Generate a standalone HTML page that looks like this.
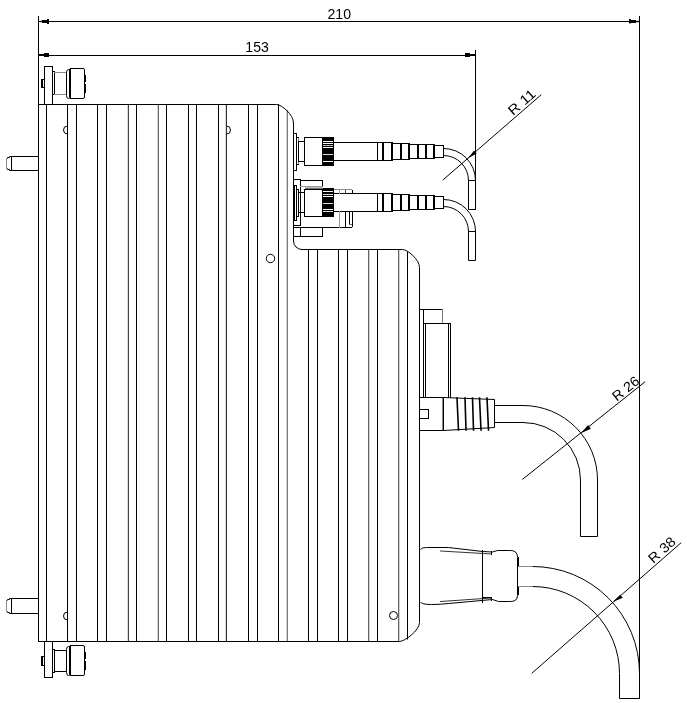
<!DOCTYPE html>
<html><head><meta charset="utf-8"><style>
html,body{margin:0;padding:0;background:#fff;}
svg{display:block;font-family:"Liberation Sans",sans-serif;}
text{filter:grayscale(1);}
</style></head><body>
<svg width="687" height="703" viewBox="0 0 687 703">
<g transform="translate(0.5,0.5)" fill="none" stroke-linecap="butt">
<line x1="38" y1="16" x2="38" y2="641" stroke="#000" stroke-width="1" stroke-linecap="square"/>
<line x1="639" y1="16" x2="639" y2="698" stroke="#000" stroke-width="1" stroke-linecap="square"/>
<line x1="475" y1="50" x2="475" y2="209" stroke="#000" stroke-width="1" stroke-linecap="square"/>
<line x1="38" y1="21" x2="639" y2="21" stroke="#000" stroke-width="1" stroke-linecap="square"/>
<line x1="38" y1="55" x2="475" y2="55" stroke="#000" stroke-width="1" stroke-linecap="square"/>
<rect x="41.5" y="19.5" width="7" height="3" fill="#000" stroke="none"/>
<rect x="46.5" y="18.5" width="2" height="5" fill="#000" stroke="none"/>
<rect x="39.5" y="19.5" width="2" height="3" fill="#c8c8c8" stroke="none"/>
<rect x="38.5" y="20.5" width="3" height="1" fill="#000" stroke="none"/>
<rect x="628.5" y="19.5" width="7" height="3" fill="#000" stroke="none"/>
<rect x="628.5" y="18.5" width="2" height="1" fill="#000" stroke="none"/>
<rect x="628.5" y="22.5" width="2" height="1" fill="#999" stroke="none"/>
<rect x="635.5" y="19.5" width="3" height="3" fill="#d0d0d0" stroke="none"/>
<rect x="635.5" y="20.5" width="3" height="1" fill="#000" stroke="none"/>
<rect x="43.5" y="52.5" width="5" height="4" fill="#000" stroke="none"/>
<rect x="38.5" y="53.5" width="5" height="2" fill="#000" stroke="none"/>
<rect x="464.5" y="52.5" width="5" height="4" fill="#000" stroke="none"/>
<rect x="469.5" y="53.5" width="5" height="2" fill="#000" stroke="none"/>
<g fill="#000" stroke="none">
<text x="327" y="18" font-size="14.4" textLength="23.5" lengthAdjust="spacingAndGlyphs">210</text>
<text x="244.8" y="51.3" font-size="14.4" textLength="23.5" lengthAdjust="spacingAndGlyphs">153</text>
</g>
<line x1="46" y1="104" x2="46" y2="641" stroke="#000" stroke-width="1" stroke-linecap="square"/>
<line x1="67" y1="104" x2="67" y2="641" stroke="#000" stroke-width="1" stroke-linecap="square"/>
<line x1="76" y1="104" x2="76" y2="641" stroke="#000" stroke-width="1" stroke-linecap="square"/>
<line x1="97" y1="104" x2="97" y2="641" stroke="#000" stroke-width="1" stroke-linecap="square"/>
<line x1="106" y1="104" x2="106" y2="641" stroke="#000" stroke-width="1" stroke-linecap="square"/>
<line x1="128" y1="104" x2="128" y2="641" stroke="#444" stroke-width="1" stroke-linecap="square"/>
<line x1="127" y1="104" x2="127" y2="641" stroke="#d8d8d8" stroke-width="1" stroke-linecap="square"/>
<line x1="136" y1="104" x2="136" y2="641" stroke="#000" stroke-width="1" stroke-linecap="square"/>
<line x1="158" y1="104" x2="158" y2="641" stroke="#666" stroke-width="1" stroke-linecap="square"/>
<line x1="157" y1="104" x2="157" y2="641" stroke="#d8d8d8" stroke-width="1" stroke-linecap="square"/>
<line x1="166" y1="104" x2="166" y2="641" stroke="#000" stroke-width="1" stroke-linecap="square"/>
<line x1="188" y1="104" x2="188" y2="641" stroke="#000" stroke-width="1" stroke-linecap="square"/>
<line x1="196" y1="104" x2="196" y2="641" stroke="#000" stroke-width="1" stroke-linecap="square"/>
<line x1="218" y1="104" x2="218" y2="641" stroke="#000" stroke-width="1" stroke-linecap="square"/>
<line x1="226" y1="104" x2="226" y2="641" stroke="#333" stroke-width="1" stroke-linecap="square"/>
<line x1="225" y1="104" x2="225" y2="641" stroke="#d8d8d8" stroke-width="1" stroke-linecap="square"/>
<line x1="248" y1="104" x2="248" y2="641" stroke="#000" stroke-width="1" stroke-linecap="square"/>
<line x1="257" y1="104" x2="257" y2="641" stroke="#000" stroke-width="1" stroke-linecap="square"/>
<line x1="278" y1="104" x2="278" y2="641" stroke="#000" stroke-width="1" stroke-linecap="square"/>
<line x1="287" y1="110" x2="287" y2="641" stroke="#777" stroke-width="1" stroke-linecap="square"/>
<line x1="286" y1="110" x2="286" y2="641" stroke="#d8d8d8" stroke-width="1" stroke-linecap="square"/>
<line x1="308" y1="249" x2="308" y2="641" stroke="#000" stroke-width="1" stroke-linecap="square"/>
<line x1="317" y1="249" x2="317" y2="641" stroke="#000" stroke-width="1" stroke-linecap="square"/>
<line x1="338" y1="249" x2="338" y2="641" stroke="#000" stroke-width="1" stroke-linecap="square"/>
<line x1="347" y1="249" x2="347" y2="641" stroke="#000" stroke-width="1" stroke-linecap="square"/>
<line x1="368" y1="249" x2="368" y2="641" stroke="#666" stroke-width="1" stroke-linecap="square"/>
<line x1="369" y1="249" x2="369" y2="641" stroke="#d0d0d0" stroke-width="1" stroke-linecap="square"/>
<line x1="377" y1="249" x2="377" y2="641" stroke="#000" stroke-width="1" stroke-linecap="square"/>
<line x1="398" y1="249" x2="398" y2="641" stroke="#666" stroke-width="1" stroke-linecap="square"/>
<line x1="399" y1="249" x2="399" y2="641" stroke="#d0d0d0" stroke-width="1" stroke-linecap="square"/>
<line x1="407" y1="251.5" x2="407" y2="638.5" stroke="#000" stroke-width="1" stroke-linecap="square"/>
<path d="M38,104 H276 C281,104 293,114 293,122.5 V240.5 A8.5,8.5 0 0 0 301.5,249 H402 C407,249 419,259 419,267 V622 C419,630 404,641 399,641 H38" stroke="#000" fill="none" stroke-width="1"/>
<path d="M67,125.5 A4,4 0 0 0 67,133.5" stroke="#000" fill="none" stroke-width="1"/>
<path d="M226,125.5 A4,4 0 0 1 226,133.5" stroke="#000" fill="none" stroke-width="1"/>
<path d="M67,611.5 A4,4 0 0 0 67,619.5" stroke="#000" fill="none" stroke-width="1"/>
<circle cx="270" cy="258" r="4.2" fill="none" stroke="#000"/>
<circle cx="393" cy="615" r="4" fill="none" stroke="#000"/>
<line x1="11" y1="156" x2="38" y2="156" stroke="#000" stroke-width="1" stroke-linecap="square"/>
<line x1="11" y1="170" x2="38" y2="170" stroke="#000" stroke-width="1" stroke-linecap="square"/>
<line x1="11" y1="156" x2="11" y2="170" stroke="#000" stroke-width="1" stroke-linecap="square"/>
<path d="M11,156 H9 V157 H7 V158" stroke="#000" fill="none" stroke-width="1"/>
<path d="M11,170 H9 V169 H7 V168" stroke="#000" fill="none" stroke-width="1"/>
<line x1="6" y1="158" x2="6" y2="168" stroke="#888" stroke-width="1" stroke-linecap="square"/>
<line x1="11" y1="598" x2="38" y2="598" stroke="#000" stroke-width="1" stroke-linecap="square"/>
<line x1="11" y1="613" x2="38" y2="613" stroke="#000" stroke-width="1" stroke-linecap="square"/>
<line x1="11" y1="598" x2="11" y2="613" stroke="#000" stroke-width="1" stroke-linecap="square"/>
<path d="M11,598 H9 V599 H7 V600" stroke="#000" fill="none" stroke-width="1"/>
<path d="M11,613 H9 V612 H7 V611" stroke="#000" fill="none" stroke-width="1"/>
<line x1="6" y1="600" x2="6" y2="611" stroke="#888" stroke-width="1" stroke-linecap="square"/>
<rect x="44" y="66" width="8" height="38" stroke="#000" fill="none"/>
<rect x="41" y="79" width="3" height="8" stroke="#000" fill="none"/>
<rect x="40.5" y="78.5" width="2" height="9" fill="#000" stroke="none"/>
<rect x="52" y="71" width="2" height="23" stroke="#000" fill="none"/>
<line x1="54" y1="72" x2="66" y2="72" stroke="#888" stroke-width="1" stroke-linecap="square"/>
<line x1="54" y1="94" x2="66" y2="94" stroke="#888" stroke-width="1" stroke-linecap="square"/>
<path d="M69,69 H68 Q66,69 66,72 V95 Q66,98 68,98 H69" stroke="#000" fill="none" stroke-width="1"/>
<rect x="69" y="68" width="15" height="30" stroke="#000" fill="none" rx="1.5"/>
<line x1="70" y1="68" x2="70" y2="98" stroke="#000" stroke-width="1" stroke-linecap="square"/>
<rect x="84.5" y="74.5" width="1" height="7" fill="#000" stroke="none"/>
<rect x="84.5" y="83.5" width="1" height="9" fill="#000" stroke="none"/>
<rect x="44" y="641" width="8" height="36" stroke="#000" fill="none"/>
<rect x="41" y="656" width="3" height="9" stroke="#000" fill="none"/>
<rect x="40.5" y="655.5" width="2" height="10" fill="#000" stroke="none"/>
<rect x="52" y="649" width="2" height="23" stroke="#000" fill="none"/>
<line x1="54" y1="650" x2="66" y2="650" stroke="#000" stroke-width="1" stroke-linecap="square"/>
<line x1="54" y1="671" x2="66" y2="671" stroke="#000" stroke-width="1" stroke-linecap="square"/>
<path d="M69,646 H68 Q66,646 66,649 V672 Q66,675 68,675 H69" stroke="#000" fill="none" stroke-width="1"/>
<rect x="69" y="645" width="15" height="30" stroke="#000" fill="none" rx="1.5"/>
<line x1="70" y1="645" x2="70" y2="675" stroke="#000" stroke-width="1" stroke-linecap="square"/>
<rect x="84.5" y="651.5" width="1" height="7" fill="#000" stroke="none"/>
<rect x="84.5" y="660.5" width="1" height="9" fill="#000" stroke="none"/>
<rect x="293" y="133" width="3" height="37" stroke="#000" fill="none"/>
<line x1="298" y1="137" x2="298" y2="164" stroke="#888" stroke-width="1" stroke-linecap="square"/>
<line x1="296" y1="137" x2="298" y2="137" stroke="#000" stroke-width="1" stroke-linecap="square"/>
<line x1="296" y1="164" x2="298" y2="164" stroke="#000" stroke-width="1" stroke-linecap="square"/>
<rect x="298" y="141" width="6" height="20" stroke="#000" fill="none"/>
<rect x="304" y="137" width="18" height="28" stroke="#000" fill="none"/>
<rect x="322.5" y="136.5" width="11" height="29" fill="#000" stroke="none"/>
<rect x="322.5" y="140.5" width="10" height="1" fill="#fff" stroke="none"/>
<rect x="322.5" y="142.5" width="10" height="1" fill="#fff" stroke="none"/>
<rect x="322.5" y="144.5" width="10" height="1" fill="#bbb" stroke="none"/>
<rect x="322.5" y="146.5" width="10" height="1" fill="#fff" stroke="none"/>
<rect x="322.5" y="153.5" width="10" height="1" fill="#ddd" stroke="none"/>
<rect x="322.5" y="160.5" width="10" height="1" fill="#fff" stroke="none"/>
<line x1="334" y1="142" x2="377" y2="142" stroke="#000" stroke-width="1" stroke-linecap="square"/>
<line x1="334" y1="160" x2="377" y2="160" stroke="#000" stroke-width="1" stroke-linecap="square"/>
<line x1="377" y1="142" x2="382" y2="142" stroke="#000" stroke-width="1" stroke-linecap="square"/>
<line x1="377" y1="160" x2="382" y2="160" stroke="#000" stroke-width="1" stroke-linecap="square"/>
<line x1="377" y1="142" x2="377" y2="160" stroke="#000" stroke-width="1" stroke-linecap="square"/>
<line x1="377" y1="142" x2="377" y2="160" stroke="#000" stroke-width="1" stroke-linecap="square"/>
<line x1="382" y1="142" x2="382" y2="160" stroke="#000" stroke-width="1" stroke-linecap="square"/>
<line x1="383" y1="142" x2="383" y2="160" stroke="#000" stroke-width="1" stroke-linecap="square"/>
<line x1="383" y1="142" x2="391" y2="142" stroke="#000" stroke-width="1" stroke-linecap="square"/>
<line x1="383" y1="160" x2="391" y2="160" stroke="#000" stroke-width="1" stroke-linecap="square"/>
<line x1="382" y1="142" x2="382" y2="160" stroke="#000" stroke-width="1" stroke-linecap="square"/>
<line x1="383" y1="142" x2="383" y2="160" stroke="#000" stroke-width="1" stroke-linecap="square"/>
<line x1="391" y1="142" x2="391" y2="160" stroke="#000" stroke-width="1" stroke-linecap="square"/>
<line x1="392" y1="142" x2="392" y2="160" stroke="#000" stroke-width="1" stroke-linecap="square"/>
<line x1="392" y1="143" x2="400" y2="143" stroke="#000" stroke-width="1" stroke-linecap="square"/>
<line x1="392" y1="159" x2="400" y2="159" stroke="#000" stroke-width="1" stroke-linecap="square"/>
<line x1="391" y1="143" x2="391" y2="159" stroke="#000" stroke-width="1" stroke-linecap="square"/>
<line x1="392" y1="143" x2="392" y2="159" stroke="#000" stroke-width="1" stroke-linecap="square"/>
<line x1="400" y1="143" x2="400" y2="159" stroke="#000" stroke-width="1" stroke-linecap="square"/>
<line x1="401" y1="143" x2="401" y2="159" stroke="#000" stroke-width="1" stroke-linecap="square"/>
<line x1="401" y1="143" x2="408" y2="143" stroke="#000" stroke-width="1" stroke-linecap="square"/>
<line x1="401" y1="159" x2="408" y2="159" stroke="#000" stroke-width="1" stroke-linecap="square"/>
<line x1="400" y1="143" x2="400" y2="159" stroke="#000" stroke-width="1" stroke-linecap="square"/>
<line x1="401" y1="143" x2="401" y2="159" stroke="#000" stroke-width="1" stroke-linecap="square"/>
<line x1="408" y1="143" x2="408" y2="159" stroke="#000" stroke-width="1" stroke-linecap="square"/>
<line x1="409" y1="143" x2="409" y2="159" stroke="#000" stroke-width="1" stroke-linecap="square"/>
<line x1="409" y1="144" x2="417" y2="144" stroke="#000" stroke-width="1" stroke-linecap="square"/>
<line x1="409" y1="158" x2="417" y2="158" stroke="#000" stroke-width="1" stroke-linecap="square"/>
<line x1="408" y1="144" x2="408" y2="158" stroke="#000" stroke-width="1" stroke-linecap="square"/>
<line x1="409" y1="144" x2="409" y2="158" stroke="#000" stroke-width="1" stroke-linecap="square"/>
<line x1="417" y1="144" x2="417" y2="158" stroke="#000" stroke-width="1" stroke-linecap="square"/>
<line x1="418" y1="144" x2="418" y2="158" stroke="#000" stroke-width="1" stroke-linecap="square"/>
<line x1="418" y1="144" x2="425" y2="144" stroke="#000" stroke-width="1" stroke-linecap="square"/>
<line x1="418" y1="158" x2="425" y2="158" stroke="#000" stroke-width="1" stroke-linecap="square"/>
<line x1="417" y1="144" x2="417" y2="158" stroke="#000" stroke-width="1" stroke-linecap="square"/>
<line x1="418" y1="144" x2="418" y2="158" stroke="#000" stroke-width="1" stroke-linecap="square"/>
<line x1="425" y1="144" x2="425" y2="158" stroke="#000" stroke-width="1" stroke-linecap="square"/>
<line x1="426" y1="144" x2="426" y2="158" stroke="#000" stroke-width="1" stroke-linecap="square"/>
<line x1="426" y1="144" x2="433" y2="144" stroke="#000" stroke-width="1" stroke-linecap="square"/>
<line x1="426" y1="158" x2="433" y2="158" stroke="#000" stroke-width="1" stroke-linecap="square"/>
<line x1="425" y1="144" x2="425" y2="158" stroke="#000" stroke-width="1" stroke-linecap="square"/>
<line x1="426" y1="144" x2="426" y2="158" stroke="#000" stroke-width="1" stroke-linecap="square"/>
<line x1="433" y1="144" x2="433" y2="158" stroke="#000" stroke-width="1" stroke-linecap="square"/>
<line x1="434" y1="144" x2="434" y2="158" stroke="#000" stroke-width="1" stroke-linecap="square"/>
<line x1="434" y1="145" x2="443" y2="145" stroke="#000" stroke-width="1" stroke-linecap="square"/>
<line x1="434" y1="157" x2="443" y2="157" stroke="#000" stroke-width="1" stroke-linecap="square"/>
<line x1="433" y1="145" x2="433" y2="157" stroke="#000" stroke-width="1" stroke-linecap="square"/>
<line x1="434" y1="145" x2="434" y2="157" stroke="#000" stroke-width="1" stroke-linecap="square"/>
<line x1="443" y1="145" x2="443" y2="157" stroke="#000" stroke-width="1" stroke-linecap="square"/>
<line x1="443" y1="145" x2="443" y2="157" stroke="#000" stroke-width="1" stroke-linecap="square"/>
<path d="M443,148 A32,32 0 0 1 475,180 V209 H468 V180 A25,25 0 0 0 443,155" stroke="#000" fill="none" stroke-width="1"/>
<line x1="468" y1="180" x2="475" y2="180" stroke="#000" stroke-width="1" stroke-linecap="square"/>
<rect x="293" y="179" width="7" height="46" stroke="#000" fill="none"/>
<line x1="300" y1="180" x2="322" y2="180" stroke="#000" stroke-width="1" stroke-linecap="square"/>
<line x1="322" y1="180" x2="322" y2="188" stroke="#000" stroke-width="1" stroke-linecap="square"/>
<line x1="300" y1="186" x2="322" y2="186" stroke="#999" stroke-width="1" stroke-linecap="square"/>
<rect x="304.5" y="186.5" width="18" height="1" fill="#bbb" stroke="none"/>
<rect x="304.5" y="187.5" width="18" height="1" fill="#777" stroke="none"/>
<rect x="294" y="185" width="2" height="35" stroke="#000" fill="none"/>
<rect x="296" y="189" width="2" height="27" stroke="#000" fill="none"/>
<rect x="298" y="192" width="6" height="20" stroke="#000" fill="none"/>
<rect x="304" y="189" width="18" height="27" stroke="#000" fill="none"/>
<rect x="322.5" y="187.5" width="11" height="29" fill="#000" stroke="none"/>
<rect x="322.5" y="190.5" width="10" height="1" fill="#fff" stroke="none"/>
<rect x="322.5" y="193.5" width="10" height="1" fill="#ddd" stroke="none"/>
<rect x="322.5" y="195.5" width="10" height="1" fill="#fff" stroke="none"/>
<rect x="322.5" y="202.5" width="10" height="1" fill="#ddd" stroke="none"/>
<rect x="322.5" y="208.5" width="10" height="1" fill="#fff" stroke="none"/>
<rect x="322.5" y="210.5" width="10" height="1" fill="#ddd" stroke="none"/>
<rect x="293" y="227" width="29" height="9" stroke="#000" fill="none"/>
<line x1="300" y1="227" x2="300" y2="236" stroke="#000" stroke-width="1" stroke-linecap="square"/>
<line x1="334" y1="193" x2="377" y2="193" stroke="#000" stroke-width="1" stroke-linecap="square"/>
<line x1="334" y1="211" x2="377" y2="211" stroke="#000" stroke-width="1" stroke-linecap="square"/>
<line x1="334" y1="189" x2="351" y2="189" stroke="#888" stroke-width="1" stroke-linecap="square"/>
<line x1="352" y1="190" x2="352" y2="193" stroke="#000" stroke-width="1" stroke-linecap="square"/>
<line x1="339" y1="190" x2="339" y2="193" stroke="#aaa" stroke-width="1" stroke-linecap="square"/>
<line x1="345" y1="190" x2="345" y2="193" stroke="#444" stroke-width="1" stroke-linecap="square"/>
<line x1="322" y1="227" x2="351" y2="227" stroke="#000" stroke-width="1" stroke-linecap="square"/>
<line x1="339" y1="211" x2="339" y2="227" stroke="#999" stroke-width="1" stroke-linecap="square"/>
<line x1="345" y1="211" x2="345" y2="227" stroke="#000" stroke-width="1" stroke-linecap="square"/>
<line x1="349" y1="211" x2="349" y2="223" stroke="#000" stroke-width="1" stroke-linecap="square"/>
<line x1="349" y1="224" x2="351" y2="224" stroke="#666" stroke-width="1" stroke-linecap="square"/>
<line x1="352" y1="211" x2="352" y2="226" stroke="#000" stroke-width="1" stroke-linecap="square"/>
<line x1="377" y1="193" x2="382" y2="193" stroke="#000" stroke-width="1" stroke-linecap="square"/>
<line x1="377" y1="211" x2="382" y2="211" stroke="#000" stroke-width="1" stroke-linecap="square"/>
<line x1="377" y1="193" x2="377" y2="211" stroke="#000" stroke-width="1" stroke-linecap="square"/>
<line x1="377" y1="193" x2="377" y2="211" stroke="#000" stroke-width="1" stroke-linecap="square"/>
<line x1="382" y1="193" x2="382" y2="211" stroke="#000" stroke-width="1" stroke-linecap="square"/>
<line x1="383" y1="193" x2="383" y2="211" stroke="#000" stroke-width="1" stroke-linecap="square"/>
<line x1="383" y1="193" x2="391" y2="193" stroke="#000" stroke-width="1" stroke-linecap="square"/>
<line x1="383" y1="211" x2="391" y2="211" stroke="#000" stroke-width="1" stroke-linecap="square"/>
<line x1="382" y1="193" x2="382" y2="211" stroke="#000" stroke-width="1" stroke-linecap="square"/>
<line x1="383" y1="193" x2="383" y2="211" stroke="#000" stroke-width="1" stroke-linecap="square"/>
<line x1="391" y1="193" x2="391" y2="211" stroke="#000" stroke-width="1" stroke-linecap="square"/>
<line x1="392" y1="193" x2="392" y2="211" stroke="#000" stroke-width="1" stroke-linecap="square"/>
<line x1="392" y1="194" x2="400" y2="194" stroke="#000" stroke-width="1" stroke-linecap="square"/>
<line x1="392" y1="210" x2="400" y2="210" stroke="#000" stroke-width="1" stroke-linecap="square"/>
<line x1="391" y1="194" x2="391" y2="210" stroke="#000" stroke-width="1" stroke-linecap="square"/>
<line x1="392" y1="194" x2="392" y2="210" stroke="#000" stroke-width="1" stroke-linecap="square"/>
<line x1="400" y1="194" x2="400" y2="210" stroke="#000" stroke-width="1" stroke-linecap="square"/>
<line x1="401" y1="194" x2="401" y2="210" stroke="#000" stroke-width="1" stroke-linecap="square"/>
<line x1="401" y1="194" x2="408" y2="194" stroke="#000" stroke-width="1" stroke-linecap="square"/>
<line x1="401" y1="210" x2="408" y2="210" stroke="#000" stroke-width="1" stroke-linecap="square"/>
<line x1="400" y1="194" x2="400" y2="210" stroke="#000" stroke-width="1" stroke-linecap="square"/>
<line x1="401" y1="194" x2="401" y2="210" stroke="#000" stroke-width="1" stroke-linecap="square"/>
<line x1="408" y1="194" x2="408" y2="210" stroke="#000" stroke-width="1" stroke-linecap="square"/>
<line x1="409" y1="194" x2="409" y2="210" stroke="#000" stroke-width="1" stroke-linecap="square"/>
<line x1="409" y1="195" x2="417" y2="195" stroke="#000" stroke-width="1" stroke-linecap="square"/>
<line x1="409" y1="209" x2="417" y2="209" stroke="#000" stroke-width="1" stroke-linecap="square"/>
<line x1="408" y1="195" x2="408" y2="209" stroke="#000" stroke-width="1" stroke-linecap="square"/>
<line x1="409" y1="195" x2="409" y2="209" stroke="#000" stroke-width="1" stroke-linecap="square"/>
<line x1="417" y1="195" x2="417" y2="209" stroke="#000" stroke-width="1" stroke-linecap="square"/>
<line x1="418" y1="195" x2="418" y2="209" stroke="#000" stroke-width="1" stroke-linecap="square"/>
<line x1="418" y1="195" x2="425" y2="195" stroke="#000" stroke-width="1" stroke-linecap="square"/>
<line x1="418" y1="209" x2="425" y2="209" stroke="#000" stroke-width="1" stroke-linecap="square"/>
<line x1="417" y1="195" x2="417" y2="209" stroke="#000" stroke-width="1" stroke-linecap="square"/>
<line x1="418" y1="195" x2="418" y2="209" stroke="#000" stroke-width="1" stroke-linecap="square"/>
<line x1="425" y1="195" x2="425" y2="209" stroke="#000" stroke-width="1" stroke-linecap="square"/>
<line x1="426" y1="195" x2="426" y2="209" stroke="#000" stroke-width="1" stroke-linecap="square"/>
<line x1="426" y1="195" x2="433" y2="195" stroke="#000" stroke-width="1" stroke-linecap="square"/>
<line x1="426" y1="209" x2="433" y2="209" stroke="#000" stroke-width="1" stroke-linecap="square"/>
<line x1="425" y1="195" x2="425" y2="209" stroke="#000" stroke-width="1" stroke-linecap="square"/>
<line x1="426" y1="195" x2="426" y2="209" stroke="#000" stroke-width="1" stroke-linecap="square"/>
<line x1="433" y1="195" x2="433" y2="209" stroke="#000" stroke-width="1" stroke-linecap="square"/>
<line x1="434" y1="195" x2="434" y2="209" stroke="#000" stroke-width="1" stroke-linecap="square"/>
<line x1="434" y1="196" x2="443" y2="196" stroke="#000" stroke-width="1" stroke-linecap="square"/>
<line x1="434" y1="208" x2="443" y2="208" stroke="#000" stroke-width="1" stroke-linecap="square"/>
<line x1="433" y1="196" x2="433" y2="208" stroke="#000" stroke-width="1" stroke-linecap="square"/>
<line x1="434" y1="196" x2="434" y2="208" stroke="#000" stroke-width="1" stroke-linecap="square"/>
<line x1="443" y1="196" x2="443" y2="208" stroke="#000" stroke-width="1" stroke-linecap="square"/>
<line x1="443" y1="196" x2="443" y2="208" stroke="#000" stroke-width="1" stroke-linecap="square"/>
<path d="M443,199 A32,32 0 0 1 475,231 V260 H468 V231 A25,25 0 0 0 443,206" stroke="#000" fill="none" stroke-width="1"/>
<line x1="468" y1="231" x2="475" y2="231" stroke="#000" stroke-width="1" stroke-linecap="square"/>
<line x1="419" y1="309" x2="442" y2="309" stroke="#000" stroke-width="1" stroke-linecap="square"/>
<line x1="442" y1="309" x2="442" y2="323" stroke="#777" stroke-width="1" stroke-linecap="square"/>
<line x1="423" y1="309" x2="423" y2="397" stroke="#000" stroke-width="1" stroke-linecap="square"/>
<line x1="423" y1="323" x2="450" y2="323" stroke="#000" stroke-width="1" stroke-linecap="square"/>
<line x1="425" y1="323" x2="425" y2="397" stroke="#000" stroke-width="1" stroke-linecap="square"/>
<line x1="448" y1="323" x2="448" y2="397" stroke="#000" stroke-width="1" stroke-linecap="square"/>
<line x1="450" y1="323" x2="450" y2="397" stroke="#000" stroke-width="1" stroke-linecap="square"/>
<path d="M419,397 H443 V430 H419" stroke="#000" fill="none" stroke-width="1"/>
<rect x="419" y="409" width="9" height="9" stroke="#000" fill="none"/>
<line x1="442" y1="398" x2="442" y2="429" stroke="#888" stroke-width="1" stroke-linecap="square"/>
<path d="M443,397 L494,399 V427 L443,430" stroke="#000" fill="none" stroke-width="1"/>
<line x1="456.5" y1="397.5" x2="458" y2="429.5" stroke="#000" stroke-width="1.6" stroke-linecap="square"/>
<line x1="464.5" y1="397.5" x2="465.5" y2="429.5" stroke="#000" stroke-width="1.6" stroke-linecap="square"/>
<line x1="472" y1="397.5" x2="473" y2="429.5" stroke="#000" stroke-width="1.6" stroke-linecap="square"/>
<line x1="479" y1="397.5" x2="480.5" y2="429.5" stroke="#000" stroke-width="1.6" stroke-linecap="square"/>
<line x1="486.5" y1="397.5" x2="488" y2="429.5" stroke="#000" stroke-width="1.6" stroke-linecap="square"/>
<path d="M494,405 H522.5 A74.5,74.5 0 0 1 597,479.5 V536 H580 V479.5 A57.5,57.5 0 0 0 522.5,422 H494" stroke="#000" fill="none" stroke-width="1"/>
<path d="M420,549 Q421,547 426,547 H448 L482,551 L492,551.5 L497,550 H510 Q517,550 517,557 V595 Q517,601 510,601 H498 L492,599 L448,603 Q440,604 431,604 Q421,604 420,601.5" stroke="#000" fill="none" stroke-width="1"/>
<line x1="440" y1="550.5" x2="491" y2="553.5" stroke="#333" stroke-width="1" stroke-linecap="square"/>
<line x1="440" y1="601" x2="491" y2="597.5" stroke="#333" stroke-width="1" stroke-linecap="square"/>
<line x1="482" y1="550" x2="482" y2="602" stroke="#000" stroke-width="1" stroke-linecap="square"/>
<line x1="482" y1="597" x2="491" y2="597" stroke="#000" stroke-width="1" stroke-linecap="square"/>
<line x1="491" y1="597" x2="491" y2="600" stroke="#000" stroke-width="1" stroke-linecap="square"/>
<line x1="491" y1="551" x2="491" y2="554" stroke="#000" stroke-width="1" stroke-linecap="square"/>
<rect x="517.5" y="556.5" width="1" height="10" fill="#000" stroke="none"/>
<rect x="517.5" y="585.5" width="1" height="9" fill="#000" stroke="none"/>
<path d="M532,566 A107,107 0 0 1 639,673 V698 H619 V673 A87,87 0 0 0 532,586" stroke="#000" fill="none" stroke-width="1"/>
<line x1="518" y1="566" x2="532" y2="566" stroke="#888" stroke-width="1" stroke-linecap="square"/>
<line x1="518" y1="586" x2="532" y2="586" stroke="#888" stroke-width="1" stroke-linecap="square"/>
<line x1="442.6" y1="179.3" x2="540.4" y2="94.5" stroke="#000" stroke-width="1" stroke-linecap="square"/>
<polygon points="467.1,158 476.3,153 473.7,150" fill="#000" stroke="none"/>
<line x1="522.2" y1="478.7" x2="644.2" y2="381.6" stroke="#000" stroke-width="1" stroke-linecap="square"/>
<polygon points="580.8,432.5 590.4,428.2 587.6,424.6" fill="#000" stroke="none"/>
<line x1="531.6" y1="672.5" x2="680.3" y2="542.5" stroke="#000" stroke-width="1" stroke-linecap="square"/>
<polygon points="612.3,601.6 622.3,597.3 619.7,594.3" fill="#000" stroke="none"/>
<g fill="#000" stroke="none">
<text x="512.5" y="115.5" font-size="13.8" transform="rotate(-41 512.5 115.5)" textLength="31.5" lengthAdjust="spacingAndGlyphs">R 11</text>
<text x="616.3" y="401.2" font-size="13.8" transform="rotate(-38.5 616.3 401.2)" textLength="30.5" lengthAdjust="spacingAndGlyphs">R 26</text>
<text x="652.8" y="563.5" font-size="13.8" transform="rotate(-41.7 652.8 563.5)" textLength="31.5" lengthAdjust="spacingAndGlyphs">R 38</text>
</g>
</g></svg></body></html>
